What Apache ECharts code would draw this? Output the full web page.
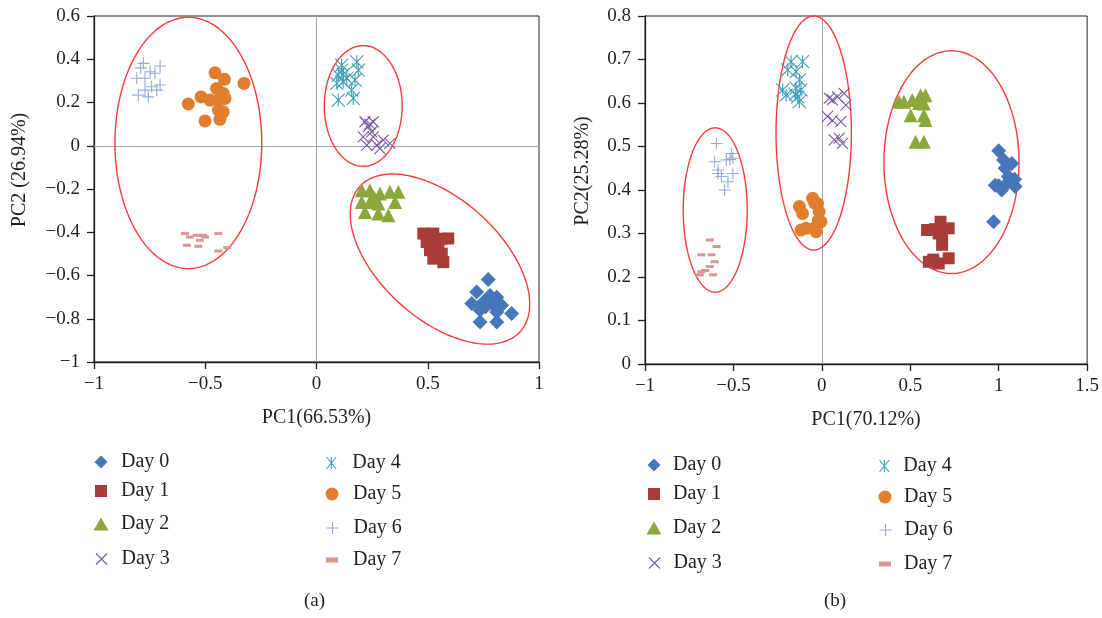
<!DOCTYPE html>
<html><head><meta charset="utf-8">
<script src="https://cdn.jsdelivr.net/npm/echarts@6/dist/echarts.min.js"></script>
<style>html,body{margin:0;padding:0;background:#fff}#c{width:1102px;height:618px}</style>
</head><body><div id="c"></div>
<script>
// ---------- data ----------
const dayNames = ['Day 0','Day 1','Day 2','Day 3','Day 4','Day 5','Day 6','Day 7'];
const titleA = {x:'PC1(66.53%)', y:'PC2 (26.94%)', caption:'(a)'};
const titleB = {x:'PC1(70.12%)', y:'PC2(25.28%)', caption:'(b)'};

// Panel (a) scores [PC1, PC2]
const a_day0 = [[0.772,-0.619],[0.720,-0.676],[0.780,-0.692],[0.810,-0.700],[0.698,-0.730],[0.750,-0.723],[0.795,-0.738],[0.832,-0.738],[0.735,-0.761],[0.810,-0.769],[0.877,-0.776],[0.735,-0.815],[0.810,-0.815],[0.760,-0.745],[0.785,-0.710]];
const a_day1 = [[0.480,-0.406],[0.525,-0.406],[0.592,-0.429],[0.495,-0.445],[0.548,-0.445],[0.510,-0.483],[0.563,-0.499],[0.525,-0.522],[0.570,-0.538],[0.500,-0.420],[0.560,-0.430],[0.530,-0.470]];
const a_day2 = [[0.203,-0.206],[0.240,-0.206],[0.285,-0.221],[0.330,-0.213],[0.368,-0.213],[0.203,-0.260],[0.240,-0.260],[0.278,-0.267],[0.353,-0.260],[0.218,-0.306],[0.278,-0.313],[0.323,-0.321],[0.260,-0.240]];
const a_day3 = [[0.218,0.111],[0.255,0.111],[0.233,0.088],[0.210,0.041],[0.255,0.041],[0.300,0.026],[0.226,0.003],[0.271,0.003],[0.330,0.011],[0.285,-0.013],[0.248,0.064],[0.240,0.100]];
const a_day4 = [[0.113,0.373],[0.181,0.388],[0.098,0.327],[0.136,0.312],[0.173,0.304],[0.091,0.288],[0.120,0.296],[0.188,0.350],[0.158,0.257],[0.098,0.211],[0.165,0.219],[0.113,0.350],[0.120,0.330]];
const a_day5 = [[-0.456,0.337],[-0.414,0.307],[-0.326,0.288],[-0.519,0.226],[-0.479,0.211],[-0.449,0.265],[-0.419,0.242],[-0.441,0.211],[-0.411,0.219],[-0.576,0.193],[-0.441,0.165],[-0.419,0.157],[-0.501,0.115],[-0.434,0.122]];
const a_day6 = [[-0.778,0.381],[-0.703,0.369],[-0.748,0.342],[-0.808,0.312],[-0.771,0.312],[-0.726,0.335],[-0.741,0.273],[-0.703,0.281],[-0.801,0.234],[-0.756,0.226],[-0.771,0.257],[-0.718,0.257],[-0.790,0.360]];
const a_day7 = [[-0.591,-0.406],[-0.569,-0.422],[-0.538,-0.414],[-0.501,-0.422],[-0.524,-0.437],[-0.583,-0.460],[-0.531,-0.465],[-0.441,-0.406],[-0.441,-0.487],[-0.401,-0.471],[-0.510,-0.414]];

// Panel (b) scores [PC1, PC2]
const b_day0 = [[1.000,0.490],[1.027,0.469],[1.074,0.461],[1.036,0.450],[0.980,0.411],[1.017,0.400],[1.055,0.431],[1.074,0.419],[1.093,0.408],[0.971,0.327],[1.046,0.415],[1.090,0.425],[1.000,0.410]];
const b_day1 = [[0.595,0.308],[0.671,0.327],[0.717,0.312],[0.661,0.300],[0.680,0.274],[0.605,0.235],[0.661,0.231],[0.717,0.243],[0.640,0.310],[0.680,0.300],[0.630,0.240]];
const b_day2 = [[0.436,0.603],[0.464,0.603],[0.511,0.607],[0.558,0.618],[0.586,0.618],[0.577,0.599],[0.502,0.572],[0.586,0.561],[0.577,0.572],[0.530,0.511],[0.577,0.511],[0.550,0.600]];
const b_day3 = [[0.042,0.611],[0.088,0.614],[0.126,0.622],[0.060,0.607],[0.032,0.569],[0.108,0.557],[0.136,0.595],[0.070,0.515],[0.117,0.507],[0.098,0.519],[0.060,0.560]];
const b_day4 = [[-0.174,0.695],[-0.109,0.695],[-0.193,0.676],[-0.146,0.672],[-0.127,0.653],[-0.221,0.630],[-0.146,0.634],[-0.118,0.630],[-0.202,0.618],[-0.137,0.614],[-0.127,0.603],[-0.150,0.620]];
const b_day5 = [[-0.127,0.362],[-0.109,0.346],[-0.052,0.381],[-0.024,0.369],[-0.015,0.350],[-0.118,0.308],[-0.090,0.312],[-0.043,0.312],[-0.005,0.327],[-0.033,0.304],[-0.040,0.370],[-0.020,0.330]];
const b_day6 = [[-0.596,0.507],[-0.512,0.484],[-0.606,0.465],[-0.540,0.469],[-0.503,0.473],[-0.587,0.438],[-0.568,0.431],[-0.503,0.438],[-0.531,0.419],[-0.550,0.400],[-0.587,0.446],[-0.520,0.470]];
const b_day7 = [[-0.634,0.285],[-0.596,0.270],[-0.681,0.251],[-0.624,0.251],[-0.606,0.235],[-0.634,0.224],[-0.681,0.212],[-0.615,0.205],[-0.690,0.205],[-0.660,0.215]];

// Grouping ellipses: [centerX, centerY, axis1X, axis1Y, axis2X, axis2Y] in data units
const a_ellipses = [[-0.576,0.013,0.330,0,0,0.581],[0.210,0.184,0.175,0,0,0.279],[0.555,-0.524,0.361,-0.335,-0.180,-0.206]];
const b_ellipses = [[-0.603,0.354,0.181,0,0,0.189],[-0.046,0.531,0.213,0,0,0.269],[0.733,0.464,0.382,0,0,0.256]];

const panelA = [a_day0,a_day1,a_day2,a_day3,a_day4,a_day5,a_day6,a_day7];
const panelB = [b_day0,b_day1,b_day2,b_day3,b_day4,b_day5,b_day6,b_day7];

// ---------- styles ----------
const FONT = '"Liberation Serif","DejaVu Serif",serif';
const INK = '#231f20';
const styles = [
  {symbol:'diamond', size:15, color:'#4677b8', stroke:false},
  {symbol:'rect', size:12, color:'#a83c38', stroke:false},
  {symbol:'triangle', size:14, color:'#8ca83a', stroke:false},
  {symbol:'path://M0,0L10,10M10,0L0,10', size:11, color:'#7a5a9f', stroke:true},
  {symbol:'path://M1,0L9,10M9,0L1,10M5,0L5,10', size:13, color:'#3fa0b6', stroke:true},
  {symbol:'circle', size:13, color:'#e07e2e', stroke:false},
  {symbol:'path://M5,0L5,10M0,5L10,5', size:12, color:'#94acdc', stroke:true},
  {symbol:'rect', size:[8,3], color:'#d99594', stroke:false}
];
function itemStyleOf(s){
  return s.stroke ? {color:'rgba(0,0,0,0)', borderColor:s.color, borderWidth:1.1, opacity:1} : {color:s.color, opacity:1};
}
const fmt = v => String(Math.round(v*10)/10).replace('-', '\u2212');

function xAx(grid, min, max, interval, name){
  return {type:'value', gridIndex:grid, min, max, interval, name, nameLocation:'middle', nameGap:46,
    nameTextStyle:{fontFamily:FONT, fontSize:20, color:INK},
    axisLine:{onZero:false, lineStyle:{color:INK, width:1.3}},
    axisTick:{length:7, lineStyle:{color:INK, width:1.3}},
    axisLabel:{margin:13, fontFamily:FONT, fontSize:19, color:INK, formatter:fmt},
    splitLine:{show:false}};
}
function yAx(grid, min, max, interval, name, gap){
  return {type:'value', gridIndex:grid, min, max, interval, name, nameLocation:'middle', nameGap:gap,
    nameTextStyle:{fontFamily:FONT, fontSize:20, color:INK, padding:[0,0,0,38]},
    axisLine:{onZero:false, lineStyle:{color:INK, width:1.3}},
    axisTick:{length:7, lineStyle:{color:INK, width:1.3}},
    axisLabel:{margin:14, fontFamily:FONT, fontSize:19, color:INK, formatter:fmt},
    splitLine:{show:false}};
}
function ellipseSeries(data, idx){
  return {type:'custom', xAxisIndex:idx, yAxisIndex:idx, data, silent:true, z:5, clip:false,
    encode:{x:0, y:1},
    renderItem(params, api){
      const cx=api.value(0), cy=api.value(1), ux=api.value(2), uy=api.value(3), vx=api.value(4), vy=api.value(5);
      const pts=[];
      for(let i=0;i<=180;i++){
        const t=i/180*2*Math.PI;
        pts.push(api.coord([cx+ux*Math.cos(t)+vx*Math.sin(t), cy+uy*Math.cos(t)+vy*Math.sin(t)]));
      }
      return {type:'polygon', shape:{points:pts}, style:{fill:'none', stroke:'#ff3a3a', lineWidth:1.4}};
    }};
}
function scatterSeries(panel, idx, zeroLines){
  return panel.map((d,i)=>{
    const s=styles[i];
    const o={type:'scatter', name:dayNames[i], xAxisIndex:idx, yAxisIndex:idx, data:d,
      symbol:s.symbol, symbolSize:s.size, itemStyle:itemStyleOf(s), z:10, animation:false};
    if(i===0){
      o.markLine={silent:true, symbol:'none', animation:false, label:{show:false},
        lineStyle:{color:'#a6a6a6', type:'solid', width:1}, data:zeroLines, z:1};
    }
    return o;
  });
}

// legend layout
const legendPos = [
  [[101,462],[101,491],[101,524],[101,559],[332,463],[332,494],[332,528],[332,560]],
  [[654,465],[654,494],[654,528],[654,563],[885,466],[885,497],[885,530],[885,564]]
];
const textX = [[121,121,121,121,353,353,353,353],[673,673,673,673,904,904,904,904]];
const iconSizes = [[13,13],[12,12],[15,13],[11,11],[12,12],[13,13],[12,12],[12,5]];
const legends=[];
legendPos.forEach((col,p)=>{
  col.forEach((pos,i)=>{
    const [w,h]=iconSizes[i];
    const left=pos[0]-w/2;
    const pad=textX[p][i]-(left+w+5);
    const s=styles[i];
    legends.push({show:true, left, top:pos[1]-11, padding:0, itemWidth:w, itemHeight:h, selectedMode:false,
      data:[{name:dayNames[i], icon:s.symbol, itemStyle:itemStyleOf(s)}],
      textStyle:{fontFamily:FONT, fontSize:20, color:INK, lineHeight:22, padding:[0,0,0,pad]}});
  });
});

const chart = echarts.init(document.getElementById('c'), null, {renderer:'canvas'});
chart.setOption({
  animation:false,
  backgroundColor:'#fff',
  grid:[
    {left:94, top:16, width:445, height:346, show:true, borderColor:INK, borderWidth:1, backgroundColor:'rgba(0,0,0,0)'},
    {left:645, top:16, width:444, height:348, show:true, borderColor:INK, borderWidth:1, backgroundColor:'rgba(0,0,0,0)'}
  ],
  xAxis:[xAx(0,-1,1,0.5,titleA.x), xAx(1,-1,1.5,0.5,titleB.x)],
  yAxis:[yAx(0,-1,0.6,0.2,titleA.y,64), yAx(1,0,0.8,0.1,titleB.y,52)],
  legend:legends,
  graphic:[
    {type:'text', left:316-12, top:592, style:{text:titleA.caption, font:'19px '+FONT, fill:INK}},
    {type:'text', left:836-12, top:592, style:{text:titleB.caption, font:'19px '+FONT, fill:INK}}
  ],
  series:[
    ellipseSeries(a_ellipses,0),
    ellipseSeries(b_ellipses,1),
    ...scatterSeries(panelA,0,[{xAxis:0},{yAxis:0}]),
    ...scatterSeries(panelB,1,[{xAxis:0}])
  ]
});
</script></body></html>
